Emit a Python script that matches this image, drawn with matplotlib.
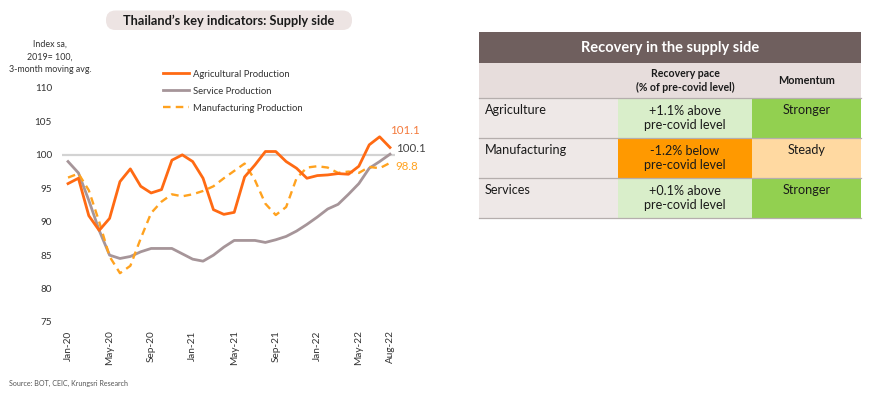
import numpy as np
import matplotlib
matplotlib.use('Agg')
import matplotlib.pyplot as plt
from matplotlib.patches import Rectangle, FancyBboxPatch

plt.rcParams['font.family'] = ['Lato', 'DejaVu Sans']

# monthly index, Jan-20 .. Aug-22 (2019 = 100, 3-month moving avg.)
months = ['Jan-20', 'Feb-20', 'Mar-20', 'Apr-20', 'May-20', 'Jun-20', 'Jul-20', 'Aug-20',
          'Sep-20', 'Oct-20', 'Nov-20', 'Dec-20', 'Jan-21', 'Feb-21', 'Mar-21', 'Apr-21',
          'May-21', 'Jun-21', 'Jul-21', 'Aug-21', 'Sep-21', 'Oct-21', 'Nov-21', 'Dec-21',
          'Jan-22', 'Feb-22', 'Mar-22', 'Apr-22', 'May-22', 'Jun-22', 'Jul-22', 'Aug-22']
agri = [95.7, 96.5, 90.9, 88.7, 90.5, 96.0, 97.9, 95.3, 94.3, 94.8, 99.2, 100.0,
        99.0, 96.5, 91.8, 91.1, 91.4, 96.7, 98.5, 100.5, 100.5, 99.0, 98.0, 96.5,
        96.9, 97.0, 97.2, 97.1, 98.3, 101.5, 102.7, 101.1]
service = [99.0, 97.3, 93.2, 88.7, 85.0, 84.5, 84.8, 85.5, 86.0, 86.0, 86.0, 85.2,
           84.4, 84.1, 85.0, 86.2, 87.2, 87.2, 87.2, 86.9, 87.3, 87.8, 88.6, 89.6,
           90.7, 91.9, 92.6, 94.1, 95.7, 98.0, 99.0, 100.1]
manuf = [96.6, 97.2, 94.7, 90.0, 84.8, 82.3, 83.4, 87.5, 91.3, 93.0, 94.1, 93.8,
         94.1, 94.6, 95.3, 96.5, 97.6, 98.7, 96.2, 92.7, 91.0, 92.2, 96.5, 98.1,
         98.3, 98.1, 97.3, 97.5, 97.3, 98.2, 98.0, 98.8]
tick_months = ['Jan-20', 'May-20', 'Sep-20', 'Jan-21', 'May-21', 'Sep-21', 'Jan-22', 'May-22', 'Aug-22']

# table contents
table_title = 'Recovery in the supply side'
col_headers = ['Recovery pace\n(% of pre-covid level)', 'Momentum']
sectors = ['Agriculture', 'Manufacturing', 'Services']
pace = ['+1.1% above\npre-covid level', '-1.2% below\npre-covid level', '+0.1% above\npre-covid level']
momentum = ['Stronger', 'Steady', 'Stronger']
pace_colors = ['#D9EECA', '#FF9900', '#D9EECA']
momentum_colors = ['#92D050', '#FFD9A1', '#92D050']

W, H = 870, 394
fig = plt.figure(figsize=(W / 100, H / 100), dpi=100)

# overlay in pixel coordinates for title box, table and notes
bg = fig.add_axes([0, 0, 1, 1])
bg.set_xlim(0, W)
bg.set_ylim(H, 0)
bg.axis('off')

bg.add_patch(FancyBboxPatch((106, 10.5), 246, 19.5, boxstyle='round,pad=0,rounding_size=9.5',
                            fc='#EDE4E3', ec='none'))
bg.text(229, 20.5, 'Thailand\u2019s key indicators: Supply side', ha='center', va='center',
        fontsize=9.2, fontweight='bold', color='#1A1A1A')
bg.text(50, 57, 'Index sa,\n2019= 100,\n3-month moving avg.', ha='center', va='center',
        fontsize=6.4, color='#333333', linespacing=1.55)
bg.text(9, 383, 'Source: BOT, CEIC, Krungsri Research', ha='left', va='center',
        fontsize=5.1, color='#555555')

# table
x0, x1, x2, x3 = 479, 618, 752, 861
y_head, y_sub, y_r = 32, 63, 98
row_h = 40
bg.add_patch(Rectangle((x0, y_head), x3 - x0, y_sub - y_head, fc='#6F5F5E', ec='none'))
bg.text((x0 + x3) / 2, (y_head + y_sub) / 2, table_title, ha='center', va='center',
        fontsize=10.5, fontweight='bold', color='white')
bg.add_patch(Rectangle((x0, y_sub), x3 - x0, y_r - y_sub, fc='#E7DDDC', ec='none'))
bg.text((x1 + x2) / 2, (y_sub + y_r) / 2, col_headers[0], ha='center', va='center',
        fontsize=7.6, fontweight='bold', color='#1A1A1A', linespacing=1.25)
bg.text((x2 + x3) / 2, (y_sub + y_r) / 2, col_headers[1], ha='center', va='center',
        fontsize=7.8, fontweight='bold', color='#1A1A1A')
bg.plot([x0, x3], [y_r, y_r], color='#B5AEAD', lw=0.9)
for i, name in enumerate(sectors):
    top = y_r + i * row_h
    bg.add_patch(Rectangle((x0, top), x1 - x0, row_h, fc='#EEE8E7', ec='none'))
    bg.add_patch(Rectangle((x1, top), x2 - x1, row_h, fc=pace_colors[i], ec='none'))
    bg.add_patch(Rectangle((x2, top), x3 - x2, row_h, fc=momentum_colors[i], ec='none'))
    bg.text(x0 + 6, top + 12, name, ha='left', va='center', fontsize=9.1, color='#1A1A1A')
    bg.text((x1 + x2) / 2, top + 20, pace[i], ha='center', va='center', fontsize=9.1,
            color='#1A1A1A', linespacing=1.2)
    bg.text((x2 + x3) / 2, top + 12, momentum[i], ha='center', va='center', fontsize=9.1,
            color='#1A1A1A')
    bg.plot([x0, x3], [top + row_h, top + row_h], color='#B5AEAD', lw=0.9)

# line chart
left, right, top_px, bot_px = 61.8, 395.2, 88, 322
ax = fig.add_axes([left / W, 1 - bot_px / H, (right - left) / W, (bot_px - top_px) / H])
ax.set_facecolor('none')
x = np.arange(len(months))
ax.axhline(100, color='#D3D3D3', lw=1.6, zorder=1)
ax.plot(x, agri, color='#FF6A13', lw=2.0, label='Agricultural Production', zorder=3)
ax.plot(x, service, color='#A69599', lw=2.0, label='Service Production', zorder=2)
ax.plot(x, manuf, color='#FFA21F', lw=1.7, ls=(0, (3.2, 2.2)),
        label='Manufacturing Production', zorder=2)

ax.set_xlim(-0.6, 31.5)
ax.set_ylim(75, 110)
ax.set_yticks(np.arange(75, 111, 5))
ax.set_xticks([months.index(m) for m in tick_months])
ax.set_xticklabels(tick_months, rotation=90)
ax.tick_params(axis='both', length=0, labelsize=7.2, colors='#333333')
ax.tick_params(axis='y', pad=7)
ax.tick_params(axis='x', pad=6)
for s in ax.spines.values():
    s.set_visible(False)

ax.text(31.0, 103.6, f'{agri[-1]:.1f}', color='#F47A3C', fontsize=8.3, va='center', ha='left')
ax.text(31.55, 100.9, f'{service[-1]:.1f}', color='#444444', fontsize=8.3, va='center', ha='left')
ax.text(31.55, 98.2, f'{manuf[-1]:.1f}', color='#FFA21F', fontsize=8.3, va='center', ha='left')

ax.legend(loc='upper left', bbox_to_anchor=(155 / W, 1 - 61 / H), bbox_transform=fig.transFigure,
          frameon=False, fontsize=6.8, handlelength=2.7, handletextpad=0.4, labelspacing=0.85,
          labelcolor='#333333')

fig.savefig('out.png', dpi=100)
